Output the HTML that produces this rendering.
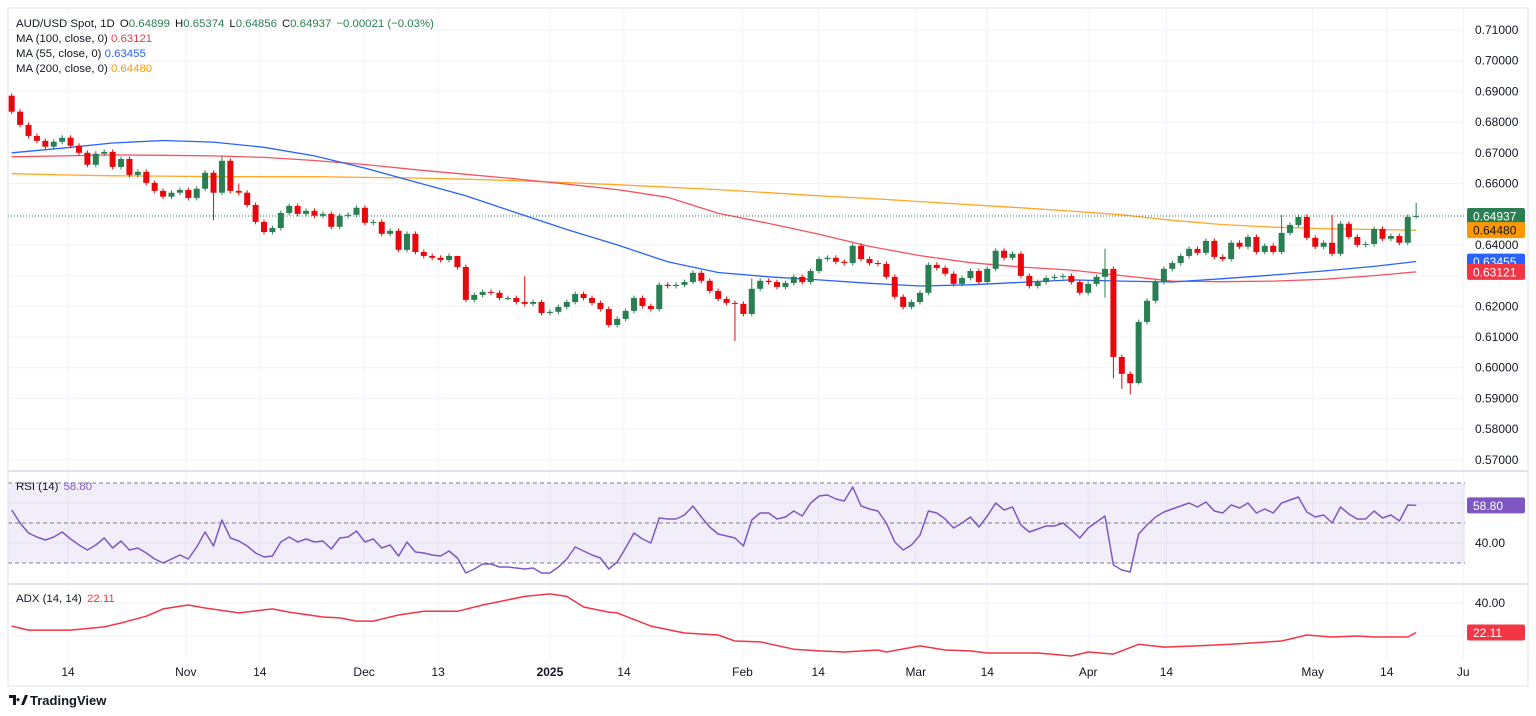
<!DOCTYPE html>
<html><head><meta charset="utf-8">
<style>
html,body{margin:0;padding:0;background:#fff;}
body{width:1536px;height:716px;overflow:hidden;font-family:"Liberation Sans",sans-serif;}
svg{display:block;}
</style></head>
<body>
<svg id="chart" width="1536" height="716" viewBox="0 0 1536 716" xmlns="http://www.w3.org/2000/svg" font-family="Liberation Sans, sans-serif">
  <rect x="0" y="0" width="1536" height="716" fill="#fff"/>
  <g id="grid"></g>
  <rect x="8" y="483" width="1457" height="80" fill="#7e57c2" fill-opacity="0.1"/>
  <g id="rsiLevels"></g>
  <g id="mas"></g>
  <g id="candles"></g>
  <g id="osc"></g>
  <g id="axes"></g>
  <line x1="8" y1="471" x2="1528" y2="471" stroke="#e0e3eb" stroke-width="2"/>
  <line x1="8" y1="584" x2="1528" y2="584" stroke="#e0e3eb" stroke-width="2"/>
  <rect x="8" y="8" width="1520" height="678" fill="none" stroke="#e0e3eb"/>
  <g font-size="11.4">
    <text x="16" y="27" fill="#131722">AUD/USD Spot, 1D <tspan dx="2">O</tspan><tspan fill="#2a7f52">0.64899</tspan><tspan dx="5">H</tspan><tspan fill="#2a7f52">0.65374</tspan><tspan dx="5">L</tspan><tspan fill="#2a7f52">0.64856</tspan><tspan dx="5">C</tspan><tspan fill="#2a7f52">0.64937</tspan><tspan dx="5" fill="#2a7f52">−0.00021 (−0.03%)</tspan></text>
    <text x="16" y="42" fill="#131722">MA (100, close, 0) <tspan fill="#f23645">0.63121</tspan></text>
    <text x="16" y="57" fill="#131722">MA (55, close, 0) <tspan fill="#2962ff">0.63455</tspan></text>
    <text x="16" y="72" fill="#131722">MA (200, close, 0) <tspan fill="#ff9800">0.64480</tspan></text>
    <text x="16" y="490" fill="#131722">RSI (14) <tspan dx="2" fill="#7e57c2">58.80</tspan></text>
    <text x="16" y="602" fill="#131722">ADX (14, 14) <tspan dx="2" fill="#f23645">22.11</tspan></text>
  </g>
  <g>
    <path d="M9 695h7v10h-3v-7h-4z M18 698a1.6 1.6 0 1 0 0.1 0z M21 705l4-10h3l-4 10z" fill="#131722"/>
    <text x="30" y="705" font-size="13" fill="#131722" font-weight="bold">TradingView</text>
  </g>
</svg>
<script>
// ---- data ----
const closes = [0.6834,0.6791,0.6755,0.6739,0.6720,0.6736,0.6749,0.6723,0.6700,0.6661,0.6697,0.6703,0.6654,0.6680,0.6628,0.6638,0.6602,0.6576,0.6557,0.6570,0.6579,0.6553,0.6583,0.6635,0.6570,0.6674,0.6576,0.6570,0.6530,0.6475,0.6442,0.6455,0.6504,0.6527,0.6501,0.6511,0.6495,0.6501,0.6459,0.6495,0.6498,0.6521,0.6472,
0.6475,0.6436,0.6446,0.6384,0.6436,0.6377,0.6364,0.6358,0.6351,0.6364,0.6328,0.6221,0.6237,0.6247,0.6244,0.6227,0.6227,0.6214,0.6208,0.6214,0.6178,0.6182,0.6198,0.6214,0.6240,0.6227,0.6211,0.6191,0.6139,0.6159,0.6185,0.6227,0.6201,0.6191,0.6270,0.6266,0.6270,0.6279,0.6309,0.6283,0.6250,0.6224,0.6211,0.6208,0.6175,0.6257,0.6283,
0.6279,0.6263,0.6276,0.6296,0.6279,0.6315,0.6354,0.6358,0.6345,0.6341,0.6397,0.6354,0.6341,0.6338,0.6296,0.6231,0.6198,0.6214,0.6244,0.6335,0.6325,0.6306,0.6273,0.6292,0.6315,0.6279,0.6322,0.6381,0.6358,0.6371,0.6299,0.6266,0.6279,0.6292,0.6296,0.6299,0.6279,0.6244,0.6273,0.6296,0.6322,0.6035,0.5980,0.5950,
0.6149,0.6218,0.6279,0.6322,0.6341,0.6364,0.6387,0.6374,0.6413,0.6361,0.6354,0.6407,0.6394,0.6426,0.6377,0.6397,0.6377,0.6439,0.6465,0.6491,0.6423,0.6394,0.6407,0.6371,0.6469,0.6426,0.6400,0.6403,0.6452,0.6420,0.6429,0.6407,0.6491,0.6494];
const firstOpen = 0.6886;
const wickOverrides = {25:[0.6690,null],24:[null,0.6480],27:[0.6600,null],53:[0.6345,null],61:[0.6298,null],86:[null,0.6087],88:[0.6290,null],100:[0.6405,null],130:[0.6388,0.6228],131:[null,0.5965],132:[null,0.5931],133:[null,0.5913],134:[null,0.5945],151:[0.6497,null],154:[0.6500,null],157:[0.6497,null],167:[0.6537,0.6486]};
const maIdx = [0,6,12,18,24,30,36,42,48,54,60,66,72,78,84,90,96,102,108,114,120,126,132,138,144,150,156,162,167];
const ma200 = [0.6632,0.6628,0.6625,0.6624,0.6622,0.6622,0.6622,0.6620,0.6618,0.6614,0.6609,0.6603,0.6596,0.6588,0.6580,0.6570,0.6560,0.6551,0.6541,0.6531,0.6521,0.6510,0.6498,0.6480,0.6466,0.6458,0.6453,0.6450,0.6448];
const ma55 = [0.6700,0.6715,0.6732,0.6740,0.6735,0.6718,0.6690,0.6650,0.6605,0.6560,0.6505,0.6450,0.6400,0.6345,0.6310,0.6296,0.6286,0.6275,0.6266,0.6270,0.6278,0.6286,0.6282,0.6279,0.6290,0.6302,0.6315,0.6330,0.6346];
const ma100 = [0.6687,0.6690,0.6693,0.6692,0.6690,0.6685,0.6675,0.6662,0.6645,0.6630,0.6615,0.6598,0.6580,0.6555,0.6503,0.6470,0.6435,0.6395,0.6365,0.6342,0.6328,0.6318,0.6300,0.6282,0.6280,0.6282,0.6288,0.6300,0.6312];
const rsi = [56.5,50,45,43,41.5,43,45.5,42,39,36.5,39,42.5,37.5,41,36.5,37.5,35,32,30,32,34,32,38,45.5,38.5,51.5,42.5,41,38.5,35,33,33.5,40.5,43,40.5,42,40.5,41,37,42.5,43,46,40.5,42,37.5,39,33.5,40.5,35.5,35,34,33.5,36,32.5,25,27,29.5,29.5,28,28,27.5,27,27.5,25,25,28,32,38,36,34,32.5,27,30.5,37.5,45,42,40,52.5,52,52,54,58.5,53,48,44.5,43.5,42.5,38.5,51.5,55,
55,52,53,56,53.5,60,63.5,64,62,61,68,58.5,57,56,50,40.5,36.5,39,44,56,55,52,47.5,50,53,48,53.5,60,56.5,58,49,45.5,47,48.5,48.5,50,46.5,42.5,47.5,50.5,53.5,29,26.5,25.5,44.5,49,53,55.5,57,58.5,60,58,60.5,56,55,59,57.5,60,55,57,55,60,61.5,63,55.5,53,54,50,58,54.5,52,52,56,52.5,54,51,59,58.8];
const adxIdx = [0,2,7,11,13,16,18,21,23,27,31,33,37,39,41,43,46,49,53,56,61,64,66,68,71,72,76,80,84,86,89,93,96,99,103,104,108,111,114,116,122,126,128,131,134,137,141,145,151,154,157,160,162,166,167];
const adx = [26,23.6,23.6,25.5,27.9,32,36.4,38.8,37,34,36.4,34.5,31.5,31,29,29,32.7,35,35,38.8,44,45.5,44,37.6,34.5,34,26,21.8,20.6,17,16.4,12,11,10.3,11.5,10.3,14,11.5,11,9.7,9.7,7.9,10.3,9,15,13.3,14,15,17,20.6,19.4,20,19.4,19.4,22.11];
const priceTicks = [0.71,0.70,0.69,0.68,0.67,0.66,0.64,0.62,0.61,0.60,0.59,0.58,0.57];
const priceGrid = [0.71,0.70,0.69,0.68,0.67,0.66,0.65,0.64,0.63,0.62,0.61,0.60,0.59,0.58,0.57];
const dateLabels = ["14","Nov","14","Dec","13","2025","14","Feb","14","Mar","14","Apr","14","May","14","Ju"];
const dateIdx = [6.7,20.7,29.5,41.9,50.7,64,72.8,86.9,95.9,107.5,116,128,137.3,154.7,163.5,172.6];

// ---- scales ----
const NS="http://www.w3.org/2000/svg";
const xOf = i => 11.7 + 8.41*i;
const yP = p => 30 + (0.71 - p)*3070;
const yR = v => 523 - (v-50)*2;
const yA = v => 636 - (v-20)*1.65;
function mk(tag, attrs, parent){const e=document.createElementNS(NS,tag);for(const k in attrs)e.setAttribute(k,attrs[k]);parent.appendChild(e);return e;}

const grid=document.getElementById('grid');
priceGrid.forEach(p=>{
  const l=mk('line',{x1:8,x2:1465,y1:yP(p),y2:yP(p),stroke:'#f0f3fa'},grid);
  
  
});
[503,543].forEach(y=>{mk('line',{x1:8,x2:1465,y1:y,y2:y,stroke:'#f0f3fa'},grid);});
[yA(40),yA(20)].forEach(y=>{mk('line',{x1:8,x2:1465,y1:y,y2:y,stroke:'#f0f3fa'},grid);});
dateIdx.forEach(i=>{
  const l=mk('line',{x1:xOf(i),x2:xOf(i),y1:8,y2:660,stroke:'#f0f3fa'},grid);
  
  
});

const lv=document.getElementById('rsiLevels');
[70,50,30].forEach(v=>{
  const l=mk('line',{x1:8,x2:1465,y1:yR(v),y2:yR(v),stroke:'#787b86','stroke-dasharray':'4 3'},lv);
  
  
});

// MAs
const mas=document.getElementById('mas');
function polyline(idx, vals, yf, color, name, parent, w){
  const pts=idx.map((i,k)=>xOf(i).toFixed(1)+','+yf(vals[k]).toFixed(1)).join(' ');
  const pl=mk('polyline',{points:pts,fill:'none',stroke:color,'stroke-width':w||1.3,'stroke-linejoin':'round'},parent);
  
  
}
polyline(maIdx,ma200,yP,'#ffa726','ma200-line',mas);
polyline(maIdx,ma100,yP,'#f7525f','ma100-line',mas);
polyline(maIdx,ma55,yP,'#2962ff','ma55-line',mas);

// close price line
const last=closes[closes.length-1];
const pl=mk('line',{x1:8,x2:1465,y1:yP(last),y2:yP(last),stroke:'#2a7f52','stroke-dasharray':'1 2'},mas);



// candles
const cg=document.getElementById('candles');
closes.forEach((c,i)=>{
  const o = i===0 ? firstOpen : closes[i-1];
  const up = c>=o;
  const col = up ? '#2a7f52' : '#e8080c';
  let h = Math.max(o,c)+0.0008, l = Math.min(o,c)-0.0008;
  const ov = wickOverrides[i];
  if(ov){ if(ov[0]!==null) h=ov[0]; if(ov[1]!==null) l=ov[1]; }
  const x=xOf(i);
  const g=mk('g',{},cg);
  
  
  mk('line',{x1:x,x2:x,y1:yP(h),y2:yP(l),stroke:col,'stroke-width':1},g);
  const top=yP(Math.max(o,c)), bot=yP(Math.min(o,c));
  mk('rect',{x:x-3,y:top,width:6,height:Math.max(1,bot-top),fill:col},g);
});

// oscillators
const osc=document.getElementById('osc');
polyline(rsi.map((v,i)=>i),rsi,yR,'#7e57c2','rsi-line',osc,1.5);
polyline(adxIdx,adx,yA,'#f23645','adx-line',osc,1.5);

// axes
const ax=document.getElementById('axes');
priceTicks.forEach(p=>{
  const t=mk('text',{x:1475,y:yP(p)+4,'font-size':12,fill:'#131722'},ax);
  t.textContent=p.toFixed(5);
  
  
});
dateLabels.forEach((s,k)=>{
  const t=mk('text',{x:xOf(dateIdx[k]),y:676,'font-size':12,fill:'#131722','text-anchor':'middle','font-weight':s==='2025'?'bold':'normal'},ax);
  t.textContent=s;
  
  
});
[['40.00',yR(40)],['40.00',yA(40)]].forEach(a=>{
  const t=mk('text',{x:1475,y:a[1]+4,'font-size':12,fill:'#131722'},ax);
  t.textContent=a[0];
  
  
});
function badge(txt,y,bg,fg,name){
  const g=mk('g',{},ax);
  
  
  mk('rect',{x:1467,y:y-8,width:58,height:16,rx:2,fill:bg},g);
  const t=mk('text',{x:1473,y:y+4.5,'font-size':12,fill:fg},g);
  t.textContent=txt;
}
badge('0.64937',yP(last),'#2a7f52','#fff','last-price-badge');
badge('0.64480',yP(0.6448),'#ff9800','#131722','ma200-badge');
badge('0.63455',yP(0.63455),'#2962ff','#fff','ma55-badge');
badge('0.63121',yP(0.63121),'#f23645','#fff','ma100-badge');
badge('58.80',yR(58.8),'#7e57c2','#fff','rsi-badge');
badge('22.11',yA(22.11),'#f23645','#fff','adx-badge');
</script>
</body></html>
